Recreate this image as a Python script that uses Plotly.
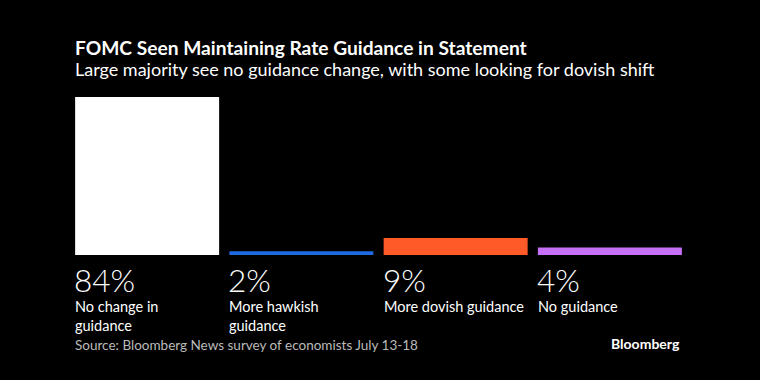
import plotly.graph_objects as go

categories = ["No change in<br>guidance", "More hawkish<br>guidance", "More dovish guidance", "No guidance"]
values = [84, 2, 9, 4]
value_labels = ["84%", "2%", "9%", "4%"]
colors = ["#ffffff", "#1f6ae3", "#ff5a28", "#c670f7"]

title = "FOMC Seen Maintaining Rate Guidance in Statement"
subtitle = "Large majority see no guidance change, with some looking for dovish shift"
source = "Source: Bloomberg News survey of economists July 13-18"
brand = "Bloomberg"

W, H = 760, 380
ml, mr, mt, mb = 70, 73, 97, 125
plot_w = W - ml - mr
slot = plot_w / len(categories)
bar_px = 144
bargap = 1 - bar_px / slot

FONT = "Lato"

fig = go.Figure(go.Bar(
    x=list(range(len(categories))), y=values,
    marker=dict(color=colors, line=dict(width=0)),
    hoverinfo="skip",
))

ann = []
for i, (cat, lab) in enumerate(zip(categories, value_labels)):
    ann.append(dict(x=i, y=0, xref="x", yref="y", xanchor="left", yanchor="top",
                    xshift=-bar_px / 2 - 3, yshift=-3.5, text=lab, showarrow=False,
                    align="left",
                    font=dict(family=FONT, size=31.5, color="#ffffff", weight=300)))
    ann.append(dict(x=i, y=0, xref="x", yref="y", xanchor="left", yanchor="top",
                    xshift=-bar_px / 2 - 2, yshift=-41, text=cat, showarrow=False,
                    align="left",
                    font=dict(family=FONT, size=14.5, color="#ffffff")))

ann += [
    dict(x=0, y=1, xref="paper", yref="paper", xanchor="left", yanchor="middle",
         xshift=3, yshift=50, text="<b>" + title + "</b>", showarrow=False,
         font=dict(family=FONT, size=19.2, color="#ffffff")),
    dict(x=0, y=1, xref="paper", yref="paper", xanchor="left", yanchor="middle",
         xshift=3, yshift=28, text=subtitle, showarrow=False,
         font=dict(family=FONT, size=18, color="#ffffff")),
    dict(x=0, y=0, xref="paper", yref="paper", xanchor="left", yanchor="middle",
         xshift=3, yshift=-90, text=source, showarrow=False,
         font=dict(family=FONT, size=13.5, color="#bbbbbb")),
    dict(x=1, y=0, xref="paper", yref="paper", xanchor="right", yanchor="middle",
         xshift=-5, yshift=-88, text="<b>" + brand + "</b>", showarrow=False,
         font=dict(family=FONT, size=14, color="#ffffff")),
]

fig.update_layout(
    width=W, height=H,
    margin=dict(l=ml, r=mr, t=mt, b=mb, pad=0),
    paper_bgcolor="#000000", plot_bgcolor="#000000",
    bargap=bargap, showlegend=False,
    xaxis=dict(visible=False, range=[-0.5, len(categories) - 0.5], fixedrange=True),
    yaxis=dict(visible=False, range=[0, 84], fixedrange=True),
    annotations=ann,
)

fig.write_html(
    "out.html",
    config={"displayModeBar": False},
    post_script="document.body.style.margin='0';document.body.style.background='#000';",
)
